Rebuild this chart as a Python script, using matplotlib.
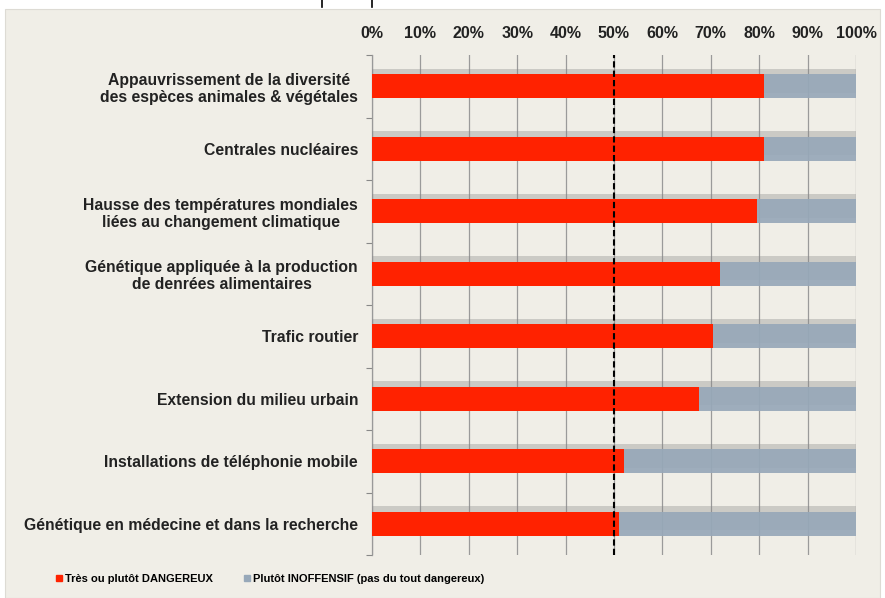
import matplotlib
matplotlib.use("Agg")
import matplotlib.pyplot as plt
import matplotlib.patheffects as pe
from matplotlib.patches import Rectangle
from matplotlib.lines import Line2D
import numpy as np

plt.rcParams['font.family'] = ['Liberation Sans', 'DejaVu Sans']

categories = [
    "Appauvrissement de la diversité\ndes espèces animales & végétales",
    "Centrales nucléaires",
    "Hausse des températures mondiales\nliées au changement climatique",
    "Génétique appliquée à la production\nde denrées alimentaires",
    "Trafic routier",
    "Extension du milieu urbain",
    "Installations de téléphonie mobile",
    "Génétique en médecine et dans la recherche",
]
dangereux = [81.0, 81.0, 79.5, 72.0, 70.5, 67.5, 52.0, 51.0]
inoffensif = [100 - v for v in dangereux]
xticks = [0, 10, 20, 30, 40, 50, 60, 70, 80, 90, 100]
xticklabels = [f"{t}%" for t in xticks]
series_names = ["Très ou plutôt DANGEREUX", "Plutôt INOFFENSIF (pas du tout dangereux)"]

RED = "#FF2200"
GRAY = "#97A8B9"
BG = "#F0EEE7"

fig = plt.figure(figsize=(8.85, 5.98), dpi=100)
fig.patch.set_facecolor("white")
fig.patches.append(Rectangle((5/885, 0), 875/885, 1 - 9/598, transform=fig.transFigure,
                             facecolor=BG, edgecolor="#DDDBD4", lw=0.8, zorder=-10))
for xp in (322, 372):
    fig.add_artist(Line2D([xp/885, xp/885], [1, 1 - 7/598], transform=fig.transFigure,
                          color="black", lw=1.2))

ax = fig.add_axes([372/885, 1 - 555/598, (856 - 372)/885, 500/598])
ax.set_facecolor(BG)

y = np.arange(len(categories))
h = 0.38
shadow = [pe.SimplePatchShadow(offset=(0, 4), shadow_rgbFace="#888888", alpha=0.35), pe.Normal()]
b1 = ax.barh(y, dangereux, height=h, color=RED, zorder=3)
b2 = ax.barh(y, inoffensif, left=dangereux, height=h, color=GRAY, alpha=0.92, zorder=3)
for b in list(b1) + list(b2):
    b.set_path_effects(shadow)

ax.set_xlim(0, 100)
ax.set_ylim(len(categories) - 0.5, -0.5)
ax.xaxis.tick_top()
ax.set_xticks(xticks)
ax.set_xticklabels(xticklabels, fontsize=11.5, fontweight="bold", color="#222222")
ax.tick_params(axis="x", length=0, pad=10)
ax.set_yticks(y)
ax.set_yticklabels(categories, fontsize=11.3, fontweight="bold", color="#222222",
                   linespacing=1.15, multialignment="center")
ax.tick_params(axis="y", length=0, pad=10)
ax.set_yticks(np.arange(-0.5, len(categories) + 0.5, 1), minor=True)
ax.tick_params(axis="y", which="minor", length=4, color="#888888", width=0.8)

ax.grid(axis="x", color="#9A9A9A", lw=0.9, zorder=1)
ax.set_axisbelow(True)
for s in ("top", "right", "bottom"):
    ax.spines[s].set_visible(False)
ax.spines["left"].set_color("#999999")
ax.spines["left"].set_linewidth(0.9)

ax.axvline(50, color="black", lw=1.5, ls=(0, (3, 1.5)), zorder=5, clip_on=False)

handles = [Line2D([], [], marker="s", ls="none", color=RED, markersize=4.5),
           Line2D([], [], marker="s", ls="none", color=GRAY, markersize=4.5)]
fig.legend(handles, series_names, loc="center", bbox_to_anchor=(269/885, 1 - 579/598),
           ncol=2, frameon=False, handletextpad=0.0, columnspacing=2.6, handlelength=1.0,
           prop={"weight": "bold", "size": 8.0})

fig.savefig("out.png", dpi=100, facecolor=fig.get_facecolor())
